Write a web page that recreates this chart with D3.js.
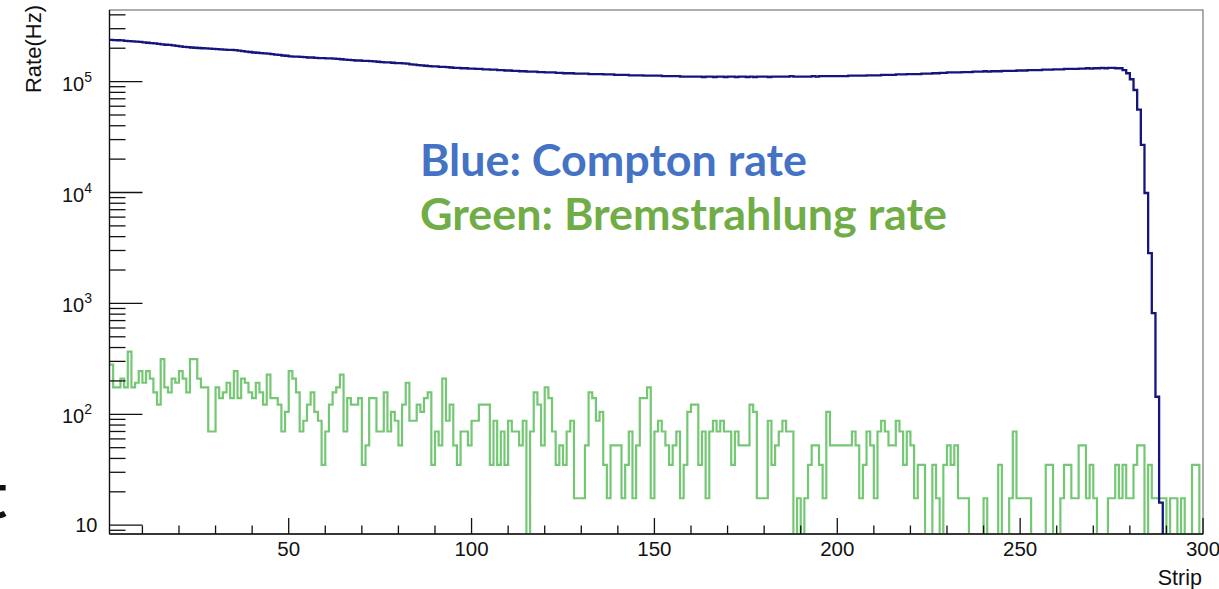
<!DOCTYPE html>
<html>
<head>
<meta charset="utf-8">
<script src="https://cdn.jsdelivr.net/npm/d3@7"></script>
<style>
  html, body { margin: 0; padding: 0; background: #ffffff; }
  svg { display: block; }
</style>
</head>
<body>
<svg id="chart" width="1219" height="589"></svg>
<script>
// ---------------- DATA ----------------
// Strip numbers: bin i spans [strip, strip+1)
const stripFirst = 1;
const stripLast = 300;

// Compton rate per strip (Hz)
const comptonRate = [
  238000,237000,236000,235000,233000,232000,231000,229000,228000,226000,
  224000,222000,221000,219000,217000,215000,214000,212000,210000,208000,
  206000,205000,203000,202000,201000,200000,199000,198000,197000,196000,
  195000,194000,193000,193000,192000,190000,188000,186000,185000,183000,
  182000,181000,180000,179000,177000,175000,174000,172000,171000,169000,
  168000,168000,167000,166000,165000,165000,164000,163000,163000,162000,
  162000,161000,160000,159000,158000,157000,156000,155000,155000,154000,
  154000,153000,152000,151000,150000,149000,149000,148000,147000,147000,
  146000,145000,143000,142000,141000,140000,139000,138000,137000,137000,
  136000,136000,135000,134000,133000,133000,132000,132000,131000,131000,
  130000,130000,129000,129000,128000,128000,127000,127000,126000,126000,
  125000,125000,124000,124000,123000,123000,123000,122000,122000,121000,
  121000,121000,120000,120000,119000,119000,119000,118000,118000,118000,
  118000,117000,117000,117000,117000,116000,116000,116000,115000,115000,
  115000,115000,114000,114000,114000,114000,113000,113000,113000,113000,
  113000,112000,112000,112000,112000,112000,111000,111000,111000,111000,
  111000,111000,110000,111000,111000,110000,111000,111000,110000,111000,
  111000,110000,111000,111000,110000,111000,110000,111000,111000,111000,
  110000,111000,111000,111000,111000,111000,112000,111000,111000,111000,
  111000,111000,112000,111000,112000,112000,112000,112000,112000,112000,
  112000,112000,113000,113000,113000,113000,113000,114000,114000,114000,
  114000,115000,115000,115000,115000,116000,116000,116000,117000,117000,
  117000,117000,118000,118000,118000,119000,119000,120000,120000,121000,
  121000,121000,121000,122000,122000,122000,123000,123000,123000,124000,
  123000,124000,124000,124000,125000,125000,125000,125000,126000,126000,
  126000,127000,127000,127000,127000,128000,128000,128000,129000,129000,
  129000,130000,130000,130000,130000,131000,131000,132000,131000,132000,
  132000,133000,132000,133000,133000,132000,132000,
  127000,119000,105000,84000,56000,26900,9900,2840,817,144,16,
  0,0,0,0,0,0,0,0,0,0,0
];

// Bremsstrahlung rate per strip (Hz)
const bremRate = [
  280,175,175,210,175,367.5,175,192.5,245,192.5,
  245,210,157.5,122.5,315,175,157.5,210,192.5,245,
  210,157.5,315,315,210,175,175,70,70,175,
  140,157.5,192.5,140,245,140,210,192.5,157.5,140,
  192.5,157.5,122.5,227.5,140,140,122.5,70,105,245,
  210,157.5,70,87.5,122.5,157.5,105,87.5,35,70,
  122.5,157.5,175,227.5,70,140,122.5,122.5,140,35,
  52.5,140,140,70,70,157.5,70,105,87.5,52.5,
  122.5,192.5,87.5,87.5,122.5,105,140,157.5,35,70,
  52.5,210,87.5,122.5,52.5,35,70,70,52.5,87.5,
  87.5,122.5,122.5,122.5,35,87.5,35,70,35,87.5,
  70,70,52.5,87.5,0,70,157.5,122.5,52.5,175,
  140,70,35,52.5,35,70,87.5,17.5,17.5,17.5,
  52.5,157.5,140,87.5,105,35,17.5,52.5,52.5,52.5,
  17.5,35,70,17.5,52.5,140,140,175,17.5,70,
  87.5,70,52.5,35,52.5,70,17.5,35,105,122.5,
  122.5,35,70,17.5,70,87.5,70,87.5,70,70,
  35,70,52.5,52.5,52.5,122.5,105,17.5,17.5,17.5,
  87.5,35,52.5,70,87.5,70,70,0,17.5,0,
  17.5,35,52.5,52.5,35,17.5,105,52.5,52.5,52.5,
  52.5,52.5,52.5,70,52.5,17.5,35,70,52.5,17.5,
  70,87.5,70,52.5,52.5,87.5,70,35,70,52.5,
  17.5,35,35,0,0,35,17.5,0,35,52.5,
  35,52.5,17.5,17.5,17.5,0,0,0,0,17.5,
  0,0,0,35,0,0,17.5,70,17.5,17.5,
  17.5,17.5,0,0,0,0,35,35,0,0,
  17.5,35,35,17.5,17.5,52.5,52.5,17.5,35,17.5,
  0,0,0,17.5,17.5,35,17.5,35,17.5,17.5,
  35,52.5,52.5,0,35,17.5,17.5,17.5,17.5,0,
  17.5,17.5,0,17.5,0,0,35,35,0
];

const xMajorTicks = [50, 100, 150, 200, 250, 300];
const xMinorTicks = [10,20,30,40,60,70,80,90,110,120,130,140,160,170,180,190,
                     210,220,230,240,260,270,280,290];
const yDecadeExponents = [1, 2, 3, 4, 5];
const xTitle = "Strip";
const yTitle = "Rate(Hz)";
const legendLines = [
  { text: "Blue: Compton rate", color: "#4472C4" },
  { text: "Green: Bremstrahlung rate", color: "#70AD47" }
];

// ---------------- LAYOUT ----------------
const frame = { left: 109.5, right: 1203, top: 10, bottom: 534 };
const yMin = 8.33, yMax = 442300;

const svg = d3.select("#chart");
const x = d3.scaleLinear().domain([stripFirst, stripLast]).range([frame.left, frame.right]);
const y = d3.scaleLog().domain([yMin, yMax]).range([frame.bottom, frame.top]).clamp(true);

svg.append("defs").append("clipPath").attr("id", "plotclip")
  .append("rect")
  .attr("x", frame.left).attr("y", frame.top)
  .attr("width", frame.right - frame.left).attr("height", frame.bottom - frame.top);

// frame box
svg.append("rect")
  .attr("x", frame.left).attr("y", frame.top)
  .attr("width", frame.right - frame.left).attr("height", frame.bottom - frame.top)
  .attr("fill", "none").attr("stroke", "#777").attr("stroke-width", 1.2);

// histogram step paths
function histPoints(vals) {
  const pts = vals.map((v, i) => [x(stripFirst + i), v > 0 ? y(v) : frame.bottom + 2]);
  const last = vals[vals.length - 1];
  pts.push([x(stripFirst + vals.length), last > 0 ? y(last) : frame.bottom + 2]);
  return pts;
}
const stepLine = d3.line().curve(d3.curveStepAfter);

const plot = svg.append("g").attr("clip-path", "url(#plotclip)");
plot.append("path")
  .attr("d", stepLine(histPoints(bremRate)))
  .attr("fill", "none").attr("stroke", "#74c874").attr("stroke-width", 2.2)
  .attr("stroke-linejoin", "miter");
plot.append("path")
  .attr("d", stepLine(histPoints(comptonRate)))
  .attr("fill", "none").attr("stroke", "#15157e").attr("stroke-width", 2.3)
  .attr("stroke-linejoin", "miter");

// axes lines
const axisG = svg.append("g").attr("stroke", "#111").attr("stroke-width", 1.3);
axisG.append("line").attr("x1", frame.left).attr("x2", frame.left)
  .attr("y1", frame.top).attr("y2", frame.bottom);
axisG.append("line").attr("x1", frame.left).attr("x2", frame.right)
  .attr("y1", frame.bottom).attr("y2", frame.bottom);

// x ticks (inside)
xMajorTicks.forEach(t => {
  axisG.append("line").attr("x1", x(t)).attr("x2", x(t))
    .attr("y1", frame.bottom).attr("y2", frame.bottom - 16);
});
xMinorTicks.forEach(t => {
  axisG.append("line").attr("x1", x(t)).attr("x2", x(t))
    .attr("y1", frame.bottom).attr("y2", frame.bottom - 8.5);
});

// y ticks (inside)
yDecadeExponents.forEach(e => {
  const base = Math.pow(10, e);
  axisG.append("line").attr("x1", frame.left).attr("x2", frame.left + 33)
    .attr("y1", y(base)).attr("y2", y(base));
});
for (let e = 0; e <= 5; e++) {
  for (let m = 2; m <= 9; m++) {
    const v = m * Math.pow(10, e);
    if (v < yMin || v > yMax) continue;
    axisG.append("line").attr("x1", frame.left).attr("x2", frame.left + 16)
      .attr("y1", y(v)).attr("y2", y(v));
  }
}

const labelFont = "'Liberation Sans', Arial, Helvetica, sans-serif";

// x tick labels
svg.append("g").selectAll("text").data(xMajorTicks).join("text")
  .attr("x", d => x(d)).attr("y", 556)
  .attr("text-anchor", "middle")
  .attr("font-family", labelFont).attr("font-size", 20.5).attr("fill", "#111")
  .text(d => d);

// y tick labels
yDecadeExponents.forEach(e => {
  const yy = y(Math.pow(10, e));
  if (e === 1) {
    svg.append("text").attr("x", 97.5).attr("y", yy + 7)
      .attr("text-anchor", "end")
      .attr("font-family", labelFont).attr("font-size", 20).attr("fill", "#111")
      .text("10");
  } else {
    const t = svg.append("text").attr("x", 92).attr("y", yy + 9)
      .attr("text-anchor", "end")
      .attr("font-family", labelFont).attr("font-size", 20).attr("fill", "#111");
    t.append("tspan").text("10");
    t.append("tspan").attr("dy", -9).attr("font-size", 14).text(e);
  }
});

// axis titles
svg.append("text").attr("x", 1202).attr("y", 585)
  .attr("text-anchor", "end")
  .attr("font-family", labelFont).attr("font-size", 21.5).attr("fill", "#111")
  .text(xTitle);
svg.append("text")
  .attr("transform", "translate(41,5) rotate(-90)")
  .attr("text-anchor", "end")
  .attr("font-family", labelFont).attr("font-size", 22).attr("fill", "#111")
  .text(yTitle);

// legend annotation text
const legendY = [176, 230];
const legendW = [387, 527];
legendLines.forEach((d, i) => {
  svg.append("text")
    .attr("x", 420).attr("y", legendY[i])
    .attr("font-family", "Lato, 'Open Sans', sans-serif").attr("font-weight", "bold")
    .attr("font-size", 43)
    .attr("textLength", legendW[i]).attr("lengthAdjust", "spacingAndGlyphs")
    .attr("fill", d.color)
    .text(d.text);
});

// partial slide glyph at the far left edge (cut off in the original too)
svg.append("text").attr("x", -17).attr("y", 518)
  .attr("font-family", "Lato, sans-serif").attr("font-weight", "bold")
  .attr("font-size", 64).attr("fill", "#111")
  .text("t");
</script>
</body>
</html>
